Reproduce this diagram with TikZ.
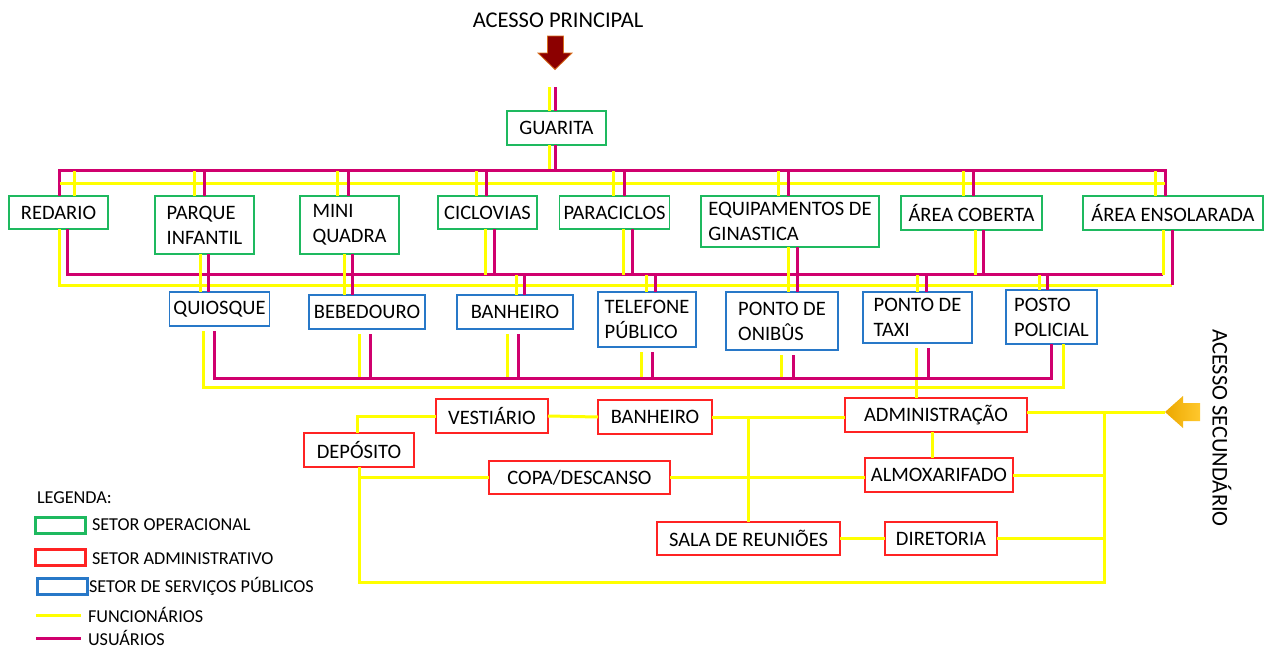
\documentclass[tikz,border=0pt]{standalone}
\usepackage{fontspec}
\setmainfont{Carlito}
\usetikzlibrary{calc}

\definecolor{opgreen}{RGB}{30,185,95}
\definecolor{admred}{RGB}{255,35,35}
\definecolor{pubblue}{RGB}{40,120,200}
\definecolor{funcyellow}{RGB}{255,255,0}
\definecolor{usermag}{RGB}{208,0,110}
\definecolor{arrowred}{RGB}{140,0,0}
\definecolor{arrowedge}{RGB}{215,110,30}
\definecolor{goldL}{RGB}{236,168,0}
\definecolor{goldR}{RGB}{255,200,45}

\newcommand{\boxfont}{\fontsize{20.5}{25}\selectfont}
\newcommand{\legfont}{\fontsize{18.2}{21}\selectfont}
\newcommand{\titlefont}{\fontsize{22.5}{27}\selectfont}

\begin{document}
\begin{tikzpicture}[x=1pt,y=-1pt,every node/.style={outer sep=0pt}]

\tikzstyle{func}=[draw=funcyellow,line width=3pt]
\tikzstyle{user}=[draw=usermag,line width=3pt]
\tikzstyle{room}=[draw,fill=white,line width=1.3pt,font=\boxfont,align=left,inner sep=4pt]
\tikzstyle{opbox}=[room,draw=opgreen]
\tikzstyle{admbox}=[room,draw=admred]
\tikzstyle{pubbox}=[room,draw=pubblue]
\tikzstyle{legbox}=[draw,line width=3pt,minimum width=50,minimum height=16,inner sep=0pt]
\tikzstyle{legtext}=[anchor=west,font=\legfont,inner sep=0pt]
\tikzstyle{dropgap}=[shorten <=5pt]

\useasboundingbox[fill=white] (0,0) rectangle (1264,648);

% accesses
\node (acc1) at (558,20) [font=\titlefont] {ACESSO PRINCIPAL};
\filldraw[fill=arrowred,draw=arrowedge,line width=0.8pt] (547.5,36) -- (563.5,36) -- (563.5,53) -- (572,53) -- (555,69.5) -- (538,53) -- (547.5,53) -- cycle;
\node (acc2) at (1222,428) [rotate=-90,font=\titlefont] {ACESSO SECUNDÁRIO};
\shade[left color=goldL,right color=goldR] (1165,412) -- (1183,396) -- (1183,403) -- (1200,403) -- (1200,421) -- (1183,421) -- (1183,428) -- cycle;
\coordinate (sectip) at (1165,412);

% operational sector
\node (guarita) at (556.5,128) [opbox,minimum width=99,minimum height=34] {GUARITA};
\node (redario) at (58.5,212.5) [opbox,minimum width=99,minimum height=33] {REDARIO};
\node (parque) at (204.5,225) [opbox,minimum width=99,minimum height=58] {PARQUE\\INFANTIL};
\node (mini) at (349.5,225) [opbox,minimum width=99,minimum height=58] {MINI\\QUADRA};
\node (ciclovias) at (487.5,212.5) [opbox,minimum width=99,minimum height=33] {CICLOVIAS};
\node (paraciclos) at (614.5,212.5) [opbox,minimum width=99,minimum height=33] {PARACICLOS};
\node (equip) at (790,221.5) [opbox,minimum width=178,minimum height=51] {EQUIPAMENTOS DE\\GINASTICA};
\node (coberta) at (971.5,213) [opbox,minimum width=141,minimum height=34] {ÁREA COBERTA};
\node (ensolarada) at (1173,213) [opbox,minimum width=180,minimum height=34] {ÁREA ENSOLARADA};

% public services
\node (quiosque) at (219.5,309) [pubbox,minimum width=99,minimum height=34] {QUIOSQUE};
\node (bebedouro) at (367,312) [pubbox,minimum width=116,minimum height=34] {BEBEDOURO};
\node (banheiro) at (515,312) [pubbox,minimum width=116,minimum height=34] {BANHEIRO};
\node (telefone) at (647,319.5) [pubbox,minimum width=98,minimum height=55] {TELEFONE\\PÚBLICO};
\node (onibus) at (782,321) [pubbox,minimum width=112,minimum height=58] {PONTO DE\\ONIBÛS};
\node (taxi) at (917.5,317.5) [pubbox,minimum width=109,minimum height=51] {PONTO DE\\TAXI};
\node (posto) at (1051.5,317) [pubbox,minimum width=91,minimum height=54] {POSTO\\POLICIAL};

% administrative sector
\node (adm) at (936,415) [admbox,minimum width=182,minimum height=34] {ADMINISTRAÇÃO};
\node (almox) at (939,475) [admbox,minimum width=148,minimum height=34] {ALMOXARIFADO};
\node (diretoria) at (941,538.5) [admbox,minimum width=112,minimum height=33] {DIRETORIA};
\node (sala) at (748.5,538.5) [admbox,minimum width=183,minimum height=33] {SALA DE REUNIÕES};
\node (vestiario) at (492,416) [admbox,minimum width=112,minimum height=34] {VESTIÁRIO};
\node (banheiroadm) at (655,417) [admbox,minimum width=114,minimum height=34] {BANHEIRO};
\node (deposito) at (359,450) [admbox,minimum width=110,minimum height=34] {DEPÓSITO};
\node (copa) at (579.5,477.5) [admbox,minimum width=181,minimum height=33] {COPA/DESCANSO};

% bus levels
\coordinate (entry) at (556.5,87);
\coordinate (mtop) at (0,170.5);
\coordinate (ytop) at (0,183);
\coordinate (mmid) at (0,274.5);
\coordinate (ymid) at (0,285);
\coordinate (mbot) at (0,378);
\coordinate (ybot) at (0,387);
\coordinate (trunkT) at (1104.5,412);
\coordinate (trunkB) at (1104.5,582.5);

% entrance
\draw[func] ([xshift=-7]guarita.north) -- ([xshift=-7]guarita.north |- entry);
\draw[user] ([xshift=-1]guarita.north) -- ([xshift=-1]guarita.north |- entry);
\draw[func] ([xshift=-7]guarita.south) -- ([xshift=-7]guarita.south |- mtop);
\draw[user] ([xshift=-1]guarita.south) -- ([xshift=-1]guarita.south |- mtop);

% top buses
\draw[user] ([xshift=1]redario.north) |- ([xshift=-8]ensolarada.north |- mtop) -- ([xshift=-8]ensolarada.north);
\draw[func] ([xshift=1]redario.north |- ytop) -- ([xshift=-8]ensolarada.north |- ytop);
\foreach \n/\a in {redario/16,parque/-10.5,mini/-12.5,ciclovias/-11.5,paraciclos/-1.5,equip/-12,coberta/-8.5,ensolarada/-18}
  \draw[func] ([xshift=\a]\n.north) -- ([xshift=\a]\n.north |- mtop);
\foreach \n/\b in {parque/0,mini/-1.5,ciclovias/-1.5,paraciclos/9.5,equip/-1.5,coberta/2}
  \draw[user] ([xshift=\b]\n.north) -- ([xshift=\b]\n.north |- mtop);

% middle buses
\draw[user] ([xshift=9]redario.south) |- ([xshift=-10]ensolarada.south |- mmid);
\draw[func] ([xshift=-10]ensolarada.south) -- ([xshift=-10]ensolarada.south |- mmid);
\draw[func] ([xshift=0.5]redario.south) |- ([xshift=-1]ensolarada.south |- ymid);
\draw[user] ([xshift=-1]ensolarada.south) -- ([xshift=-1]ensolarada.south |- ymid);
\foreach \n/\a/\b in {ciclovias/-2/6.5,paraciclos/9/18,coberta/4/12} {
  \draw[func] ([xshift=\a]\n.south) -- ([xshift=\a]\n.south |- mmid);
  \draw[user] ([xshift=\b]\n.south) -- ([xshift=\b]\n.south |- mmid);
}
% straight through to the second row
\foreach \n/\m/\a/\b in {parque/quiosque/-4/4,mini/bebedouro/-5.5/3,equip/onibus/-2/7} {
  \draw[func] ([xshift=\a]\n.south) -- ([xshift=\a]\n.south |- \m.north);
  \draw[user] ([xshift=\b]\n.south) -- ([xshift=\b]\n.south |- \m.north);
}
\foreach \n/\a/\b in {banheiro/1/9,telefone/-1/8,taxi/0/8.5,posto/-12.5/-4} {
  \draw[func] ([xshift=\a]\n.north) -- ([xshift=\a]\n.north |- mmid);
  \draw[user] ([xshift=\b]\n.north) -- ([xshift=\b]\n.north |- mmid);
}

% lower buses
\foreach \n/\a/\b in {bebedouro/-7.5/3,banheiro/-8/3,telefone/-6/5,onibus/-1/11} {
  \draw[func,dropgap] ([xshift=\a]\n.south) -- ([xshift=\a]\n.south |- mbot);
  \draw[user,dropgap] ([xshift=\b]\n.south) -- ([xshift=\b]\n.south |- mbot);
}
\draw[user,dropgap] ([xshift=10.5]taxi.south) -- ([xshift=10.5]taxi.south |- mbot);
\draw[func,dropgap] ([xshift=-1]taxi.south) -- ([xshift=-1]taxi.south |- adm.north);
\draw[user,dropgap] ([xshift=-5.5]quiosque.south) |- ([xshift=-0.5]posto.south |- mbot) -- ([xshift=-0.5]posto.south);
\draw[func,dropgap] ([xshift=-16]quiosque.south) |- ([xshift=11.5]posto.south |- ybot) -- ([xshift=11.5]posto.south);

% administrative links
\draw[func] ([xshift=-2]deposito.north) |- (vestiario.west);
\draw[func] (vestiario.east) -- (banheiroadm.west);
\draw[func] (banheiroadm.east) -- (banheiroadm.east -| adm.west);
\draw[func] (sala.north) -- (sala.north |- banheiroadm.east);
\draw[func] (copa.east) -- (copa.east -| almox.west);
\draw[func] (deposito.south |- copa.west) -- (copa.west);
\draw[func] (deposito.south) |- (trunkB) -- (trunkT);
\draw[func] ([xshift=-3.5]adm.south) -- ([xshift=-3.5]adm.south |- almox.north);
\draw[func] (sectip -| adm.east) -- (sectip);
\draw[func] (almox.east) -- (almox.east -| trunkT);
\draw[func] (diretoria.east) -- (diretoria.east -| trunkT);
\draw[func] (sala.east) -- (diretoria.west);

% legend
\node (legenda) at (37,498) [legtext] {LEGENDA:};
\node (legop) at (60.5,525.5) [legbox,draw=opgreen] {};
\node (legadm) at (60.5,557.5) [legbox,draw=admred] {};
\node (legpub) at (62,586.5) [legbox,draw=pubblue] {};
\node (legoptxt) at (92,525) [legtext] {SETOR OPERACIONAL};
\node (legadmtxt) at (92,559) [legtext] {SETOR ADMINISTRATIVO};
\node (legpubtxt) at (89,586) [legtext] {SETOR DE SERVIÇOS PÚBLICOS};
\node (legfunc) at (88,615) [legtext] {FUNCIONÁRIOS};
\node (leguser) at (88,638) [legtext] {USUÁRIOS};
\coordinate (lf) at (36,615);
\coordinate (lu) at (36,638);
\draw[func] (lf) -- ([xshift=-7]legfunc.west);
\draw[user] (lu) -- ([xshift=-7]leguser.west);
\end{tikzpicture}
\end{document}
